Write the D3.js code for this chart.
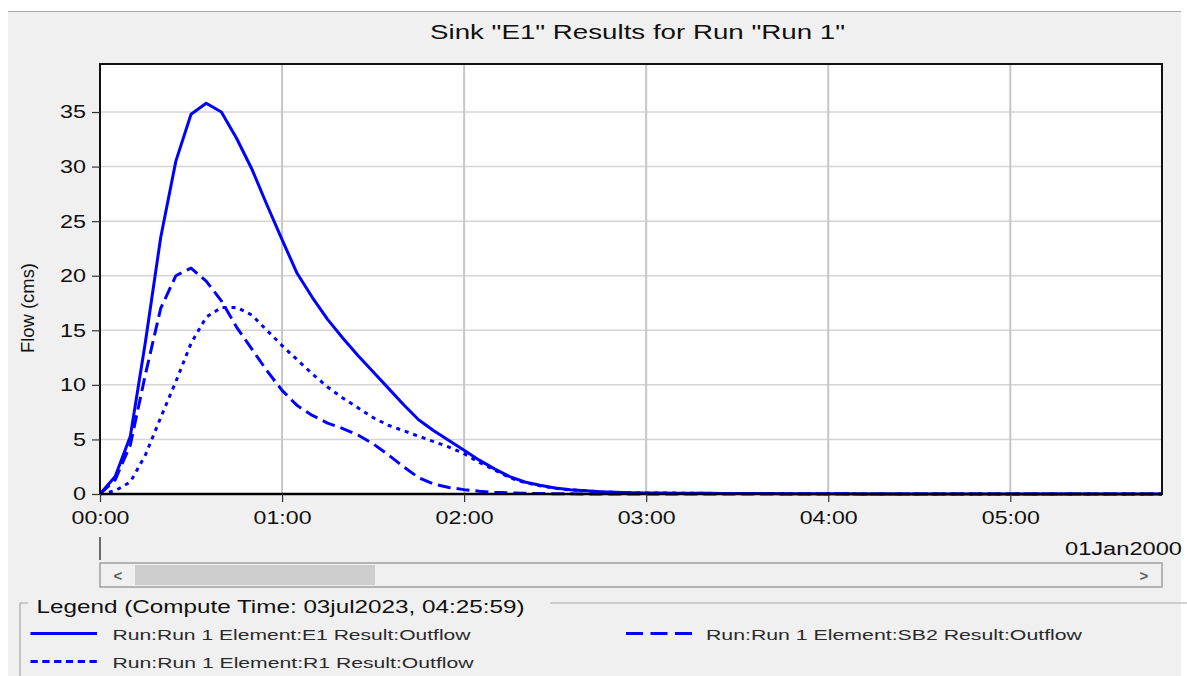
<!DOCTYPE html>
<html lang="en">
<head>
<meta charset="utf-8">
<title>Sink E1 Results</title>
<script src="https://d3js.org/d3.v7.min.js"></script>
<style>
  body { margin: 0; background: #fff; }
  svg text { font-family: "Liberation Sans", Arial, sans-serif; }
</style>
</head>
<body>
<script>
// time since 00:00, minutes (5 min step)
var minutes = [0,5,10,15,20,25,30,35,40,45,50,55,60,65,70,75,80,85,90,95,
  100,105,110,115,120,125,130,135,140,145,150,155,160,165,170,175,180,185,190,195,
  200,205,210,215,220,225,230,235,240,245,250,255,260,265,270,275,280,285,290,295,
  300,305,310,315,320,325,330,335,340,345,350];

// Flow (cms)
var e1Outflow = [0,1.6,5.3,14.0,23.5,30.5,34.8,35.8,35.0,32.6,
  29.8,26.5,23.3,20.2,18.0,16.0,14.3,12.7,11.2,9.7,
  8.2,6.8,5.8,4.9,4.0,3.1,2.3,1.6,1.1,0.8,
  0.55,0.4,0.3,0.2,0.15,0.12,0.1,0.09,0.08,0.07,
  0.06,0.05,0.05,0.04,0.04,0.03,0.03,0.02,0.02,0.02,
  0.01,0.01,0.01,0.01,0.01,0.01,0.01,0.01,0.01,0.01,
  0.01,0,0,0,0,0,0,0,0,0,0];

var sb2Outflow = [0,1.3,4.5,11.0,17.0,20.0,20.7,19.5,17.7,15.3,
  13.3,11.3,9.5,8.1,7.2,6.5,6.0,5.4,4.6,3.6,
  2.5,1.5,0.9,0.6,0.4,0.25,0.15,0.1,0.06,0.04,
  0.03,0.02,0.01,0.01,0,0,0,0,0,0,
  0,0,0,0,0,0,0,0,0,0,
  0,0,0,0,0,0,0,0,0,0,
  0,0,0,0,0,0,0,0,0,0,0];

var r1Outflow = [0,0.3,1.1,3.6,7.0,10.3,13.8,16.2,17.1,17.1,
  16.4,15.0,13.6,12.3,11.0,9.8,8.8,7.9,7.0,6.3,
  5.8,5.3,4.8,4.3,3.7,2.9,2.2,1.5,1.05,0.75,
  0.52,0.38,0.29,0.19,0.15,0.12,0.1,0.09,0.08,0.07,
  0.06,0.05,0.05,0.04,0.04,0.03,0.03,0.02,0.02,0.02,
  0.01,0.01,0.01,0.01,0.01,0.01,0.01,0.01,0.01,0.01,
  0.01,0,0,0,0,0,0,0,0,0,0];

var yTicks = [0,5,10,15,20,25,30,35];
var seriesNames = ["Run:Run 1 Element:E1 Result:Outflow",
                   "Run:Run 1 Element:SB2 Result:Outflow",
                   "Run:Run 1 Element:R1 Result:Outflow"];

var w = 1187, h = 676;
var pLeft = 100, pRight = 1162, pTop = 64, pBottom = 494;
var start = Date.UTC(2000, 0, 1, 0, 0);

var svg = d3.select("body").append("svg").attr("width", w).attr("height", h);

// stretched text helper (the source fonts are wider than Liberation Sans)
function label(x, y, str, size, len, anchor) {
  return svg.append("text").attr("x", x).attr("y", y).attr("font-size", size)
    .attr("text-anchor", anchor || "start").attr("fill", "#111")
    .attr("textLength", len).attr("lengthAdjust", "spacingAndGlyphs").text(str);
}

// window background
svg.append("rect").attr("x", 8).attr("y", 11).attr("width", 1173).attr("height", h - 11).attr("fill", "#f0f0f0");
svg.append("line").attr("x1", 8).attr("x2", 1181).attr("y1", 11.5).attr("y2", 11.5).attr("stroke", "#a8a8a8");

// title
label(637.5, 39, 'Sink "E1" Results for Run "Run 1"', 20, 415, "middle");

// scales
var xScale = d3.scaleUtc()
  .domain([new Date(start), new Date(start + 350 * 60000)])
  .range([pLeft, pRight]);
var yScale = d3.scaleLinear().domain([0, 39.4]).range([pBottom, pTop]);

// plot area
svg.append("rect").attr("x", pLeft).attr("y", pTop).attr("width", pRight - pLeft).attr("height", pBottom - pTop).attr("fill", "#fff");

var hourTicks = xScale.ticks(d3.utcHour.every(1));

// grid
svg.append("g").selectAll("line").data(yTicks.slice(1)).enter().append("line")
  .attr("x1", pLeft).attr("x2", pRight)
  .attr("y1", function(d) { return yScale(d); }).attr("y2", function(d) { return yScale(d); })
  .attr("stroke", "#d4d4d4").attr("stroke-width", 1.5);
svg.append("g").selectAll("line").data(hourTicks.slice(1)).enter().append("line")
  .attr("x1", function(d) { return xScale(d); }).attr("x2", function(d) { return xScale(d); })
  .attr("y1", pTop).attr("y2", pBottom)
  .attr("stroke", "#c6c6c6").attr("stroke-width", 2);

// series
var series = [
  {name: seriesNames[0], values: e1Outflow, dash: null, legendDash: null, len: 358},
  {name: seriesNames[1], values: sb2Outflow, dash: "13,6", legendDash: "17,7.5", len: 376},
  {name: seriesNames[2], values: r1Outflow, dash: "4,5", legendDash: "7.3,4.5", len: 361}
];

var line = d3.line()
  .x(function(d) { return xScale(new Date(start + d[0] * 60000)); })
  .y(function(d) { return yScale(d[1]); });

svg.append("g").selectAll("path").data(series).enter().append("path")
  .attr("d", function(s) { return line(minutes.map(function(m, i) { return [m, s.values[i]]; })); })
  .attr("fill", "none").attr("stroke", "#0000ff").attr("stroke-width", 3)
  .attr("stroke-linejoin", "round")
  .attr("stroke-dasharray", function(s) { return s.dash; });

// frame
svg.append("rect").attr("x", pLeft).attr("y", pTop).attr("width", pRight - pLeft).attr("height", pBottom - pTop)
  .attr("fill", "none").attr("stroke", "#111").attr("stroke-width", 2);
svg.append("line").attr("x1", pLeft).attr("x2", pRight).attr("y1", pBottom).attr("y2", pBottom).attr("stroke", "#000").attr("stroke-width", 2.5);

// axes
var yAxis = d3.axisLeft(yScale).tickValues(yTicks).tickSize(8).tickPadding(6);
var yG = svg.append("g").attr("transform", "translate(" + pLeft + ",0)").call(yAxis);
yG.select(".domain").remove();
yG.selectAll("line").attr("stroke", "#333").attr("stroke-width", 1.2);
yG.selectAll("text").attr("font-size", 18.5).attr("fill", "#111").attr("font-family", "Liberation Sans, Arial")
  .attr("textLength", function(d) { return String(d).length * 13; }).attr("lengthAdjust", "spacingAndGlyphs");

var xAxis = d3.axisBottom(xScale).tickValues(hourTicks).tickFormat(d3.utcFormat("%H:%M")).tickSize(8).tickPadding(9);
var xG = svg.append("g").attr("transform", "translate(0," + pBottom + ")").call(xAxis);
xG.select(".domain").remove();
xG.selectAll("line").attr("stroke", "#333").attr("stroke-width", 1.2);
xG.selectAll("text").attr("font-size", 18.5).attr("fill", "#111").attr("font-family", "Liberation Sans, Arial")
  .attr("textLength", 58).attr("lengthAdjust", "spacingAndGlyphs");

label(1182, 555, "01Jan2000", 18.5, 117, "end");
svg.append("line").attr("x1", pLeft).attr("x2", pLeft).attr("y1", 537).attr("y2", 560).attr("stroke", "#111").attr("stroke-width", 1.2);

// y label
svg.append("text").attr("transform", "translate(34,308) rotate(-90)").attr("text-anchor", "middle")
  .attr("font-size", 18).attr("fill", "#111")
  .attr("textLength", 90).attr("lengthAdjust", "spacingAndGlyphs").text("Flow (cms)");

// scrollbar
svg.append("rect").attr("x", pLeft).attr("y", 563).attr("width", pRight - pLeft).attr("height", 24)
  .attr("fill", "#f0f0f0").attr("stroke", "#a0a0a0").attr("stroke-width", 1.5);
svg.append("rect").attr("x", 135).attr("y", 565).attr("width", 240).attr("height", 20).attr("fill", "#cdcdcd");
svg.append("text").attr("x", 118).attr("y", 581).attr("text-anchor", "middle").attr("font-size", 15).attr("font-weight", "bold").attr("fill", "#606060").text("<");
svg.append("text").attr("x", 1144).attr("y", 581).attr("text-anchor", "middle").attr("font-size", 15).attr("font-weight", "bold").attr("fill", "#606060").text(">");

// legend box
svg.append("path").attr("d", "M20,676 V603 H28 M550,603 H1187")
  .attr("fill", "none").attr("stroke", "#a8a8a8").attr("stroke-width", 1.2);
label(36.5, 613, "Legend (Compute Time: 03jul2023, 04:25:59)", 18.5, 488);

var legendPos = [{x: 30.5, y: 633.5}, {x: 626, y: 633.5}, {x: 30.5, y: 661.5}];
var lg = svg.append("g").selectAll("g").data(series).enter().append("g")
  .attr("transform", function(d, i) { return "translate(" + legendPos[i].x + "," + legendPos[i].y + ")"; });
lg.append("line").attr("x1", 0).attr("x2", 66.5).attr("y1", 0).attr("y2", 0)
  .attr("stroke", "#0000ff").attr("stroke-width", 3)
  .attr("stroke-dasharray", function(d) { return d.legendDash; });
lg.append("text").attr("x", function(d, i) { return i === 1 ? 80 : 82; }).attr("y", 6.5)
  .attr("font-size", 15).attr("fill", "#2a2a2a")
  .attr("textLength", function(d) { return d.len; }).attr("lengthAdjust", "spacingAndGlyphs")
  .text(function(d) { return d.name; });
</script>
</body>
</html>
